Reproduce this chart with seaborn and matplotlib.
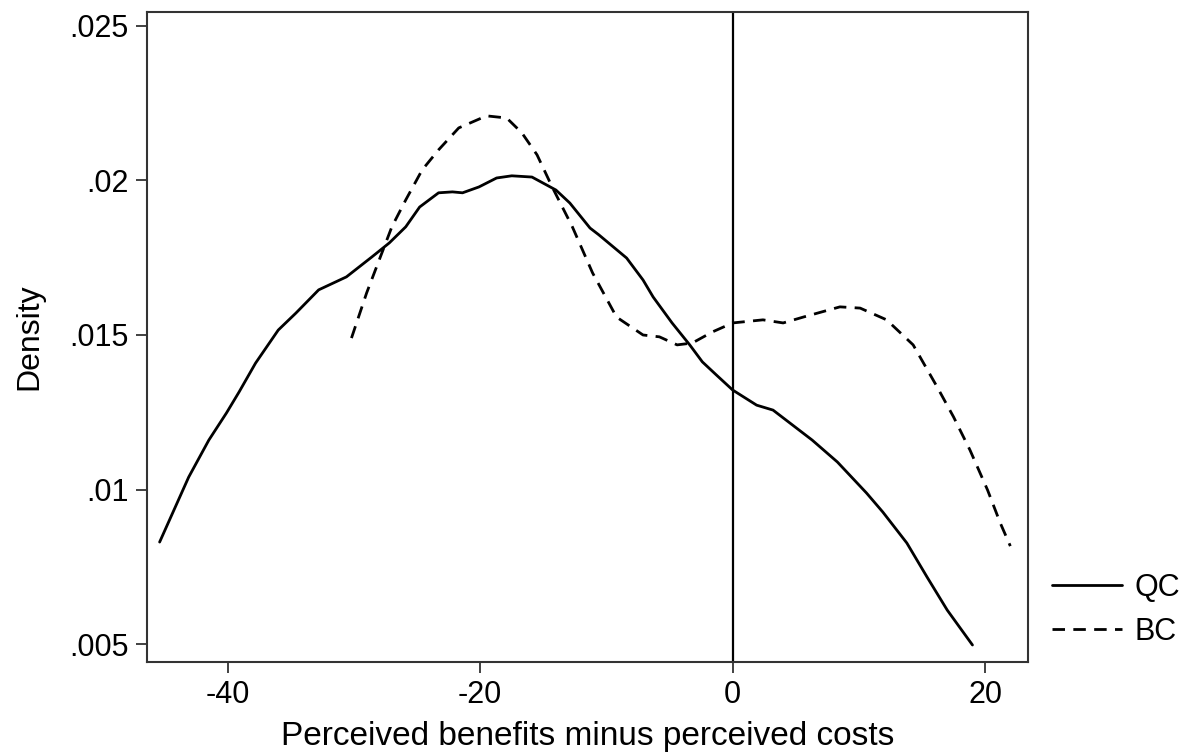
import numpy as np
import pandas as pd
import matplotlib
matplotlib.use("Agg")
import matplotlib.pyplot as plt
import seaborn as sns

# ---- data ----
qc_x = [-45.4, -43.1, -41.5, -40.1, -39.1, -37.8, -36.0, -34.6, -32.8, -30.6,
        -28.6, -27.2, -25.9, -24.8, -23.3, -22.2, -21.4, -20.1, -18.7, -17.5,
        -15.9, -14.0, -12.9, -11.3, -10.6, -8.4, -7.1, -6.3, -4.8, -3.4,
        -2.4, -1.3, 0.0, 1.9, 3.2, 6.3, 8.3, 10.6, 11.9, 13.8,
        15.4, 17.0, 19.0]
qc_y = [0.00830, 0.01040, 0.01160, 0.01248, 0.01316, 0.01409, 0.01516, 0.01571, 0.01646, 0.01688,
        0.01752, 0.01798, 0.01850, 0.01914, 0.01960, 0.01963, 0.01960, 0.01979, 0.02008, 0.02015,
        0.02011, 0.01969, 0.01927, 0.01846, 0.01824, 0.01749, 0.01678, 0.01623, 0.01539, 0.01468,
        0.01413, 0.01371, 0.01322, 0.01273, 0.01257, 0.01160, 0.01089, 0.00989, 0.00927, 0.00827,
        0.00717, 0.00610, 0.00497]

bc_x = [-30.2, -29.0, -28.0, -27.0, -25.9, -24.6, -23.3, -21.7, -19.5, -17.9,
        -16.7, -15.5, -14.3, -12.7, -11.1, -9.2, -7.1, -5.8, -4.4, -3.2,
        -1.6, 0.0, 2.4, 4.0, 5.6, 8.5, 10.1, 12.2, 14.3, 16.2,
        17.5, 18.8, 20.2, 21.2, 22.0]
bc_y = [0.01490, 0.01636, 0.01743, 0.01850, 0.01937, 0.02034, 0.02099, 0.02170, 0.02209, 0.02202,
        0.02154, 0.02083, 0.01979, 0.01850, 0.01701, 0.01558, 0.01500, 0.01494, 0.01468, 0.01474,
        0.01510, 0.01539, 0.01549, 0.01539, 0.01558, 0.01591, 0.01587, 0.01549, 0.01468, 0.01332,
        0.01235, 0.01128, 0.00998, 0.00892, 0.00817]

groups = ["QC", "BC"]
x_ticks = [-40, -20, 0, 20]
y_ticks = [0.005, 0.01, 0.015, 0.02, 0.025]
y_tick_labels = [".005", ".01", ".015", ".02", ".025"]

df = pd.concat([
    pd.DataFrame({"x": qc_x, "y": qc_y, "group": "QC"}),
    pd.DataFrame({"x": bc_x, "y": bc_y, "group": "BC"}),
], ignore_index=True)

sns.set_theme(style="white")
plt.rcParams["font.family"] = ["Liberation Sans", "DejaVu Sans"]
plt.rcParams["text.color"] = "black"
plt.rcParams["axes.labelcolor"] = "black"
plt.rcParams["lines.solid_joinstyle"] = "round"
plt.rcParams["lines.solid_capstyle"] = "round"

fig = plt.figure(figsize=(11.89, 7.53), dpi=100)
ax = fig.add_axes([147 / 1189, 91 / 753, 881 / 1189, 650 / 753])

sns.lineplot(data=df, x="x", y="y", hue="group", style="group",
             hue_order=groups, style_order=groups,
             palette={"QC": "black", "BC": "black"},
             dashes={"QC": "", "BC": (4.5, 3.0)},
             sort=False, linewidth=2.0, ax=ax)

ax.axvline(0, color="black", linewidth=1.6, zorder=1)

ax.set_xlim(-46.4, 23.4)
ax.set_ylim(0.00442, 0.02545)
ax.set_xticks(x_ticks)
ax.set_xticklabels([str(t) for t in x_ticks])
ax.set_yticks(y_ticks)
ax.set_yticklabels(y_tick_labels)

for s in ax.spines.values():
    s.set_visible(True)
    s.set_color("#333333")
    s.set_linewidth(1.5)

ax.tick_params(axis="both", which="both", direction="out", length=8, width=1.3,
               color="#333333", labelsize=22, pad=5, left=True, bottom=True,
               labelcolor="black")
ax.set_xlabel("Perceived benefits minus perceived costs", fontsize=24, labelpad=8,
              color="black")
ax.set_ylabel("Density", fontsize=23, labelpad=18, color="black")

handles, labels = ax.get_legend_handles_labels()
leg = ax.legend(handles, labels, loc="upper left", bbox_to_anchor=(1.027, 0.137),
                frameon=False, fontsize=22, handlelength=2.3, handletextpad=0.4,
                labelspacing=0.45, borderpad=0, borderaxespad=0)
for t in leg.get_texts():
    t.set_color("black")

fig.savefig("out.png", dpi=100, facecolor="white")
